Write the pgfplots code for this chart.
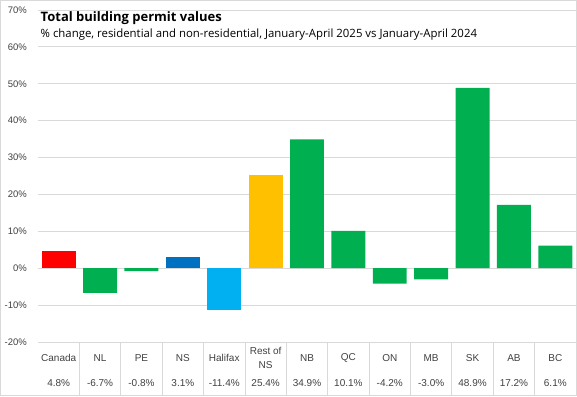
\documentclass[border=0pt]{standalone}
\usepackage{pgfplots}
\pgfplotsset{compat=1.18}
\usepackage{fontspec}
\setmainfont{Liberation Sans}
\newfontfamily\titlefont{Open Sans}
\definecolor{cred}{HTML}{FF0000}
\definecolor{cgreen}{HTML}{00B050}
\definecolor{cblue}{HTML}{0070C0}
\definecolor{clblue}{HTML}{00B0F0}
\definecolor{cgold}{HTML}{FFC000}
\definecolor{cgrid}{HTML}{D9D9D9}
\definecolor{ctext}{HTML}{404040}
\begin{document}
\begin{tikzpicture}
\path[use as bounding box] (-38pt,-54pt) rectangle (539pt,342pt);
\draw[cgrid,line width=0.8pt] (-37.6pt,-53.6pt) rectangle (538.6pt,341.6pt);
\begin{axis}[
  scale only axis,
  width=538pt, height=332pt,
  xmin=-0.5, xmax=12.5,
  ymin=-20, ymax=70,
  ytick={-20,-10,...,70},
  yticklabel={\pgfmathprintnumber{\tick}\%},
  /pgf/number format/assume math mode=true,
  yticklabel style={anchor=east, inner sep=0pt, xshift=-11pt, font=\fontsize{9.5}{11}\selectfont, text=ctext},
  ymajorgrids,
  grid style={cgrid, line width=0.8pt},
  axis line style={draw=none},
  major tick length=0pt,
  xtick={0,...,12},
  xticklabels={Canada,NL,PE,NS,Halifax,{Rest of\\NS},NB,QC,ON,MB,SK,AB,BC},
  xticklabel style={anchor=center, align=center, inner sep=0pt, yshift=-16pt, font=\fontsize{10}{14.5}\selectfont, text=ctext},
  extra x ticks={0,...,12},
  extra x tick labels={4.8\%,-6.7\%,-0.8\%,3.1\%,-11.4\%,25.4\%,34.9\%,10.1\%,-4.2\%,-3.0\%,48.9\%,17.2\%,6.1\%},
  extra x tick style={xticklabel style={yshift=-25pt}, grid=none},
  ybar, bar width=0.82, bar shift=0pt,
  clip=false,
]
\addplot[fill=cred, draw=none] coordinates {(0,4.8)};
\addplot[fill=cgreen, draw=none] coordinates {(1,-6.7) (2,-0.8) (6,34.9) (7,10.1) (8,-4.2) (9,-3.0) (10,48.9) (11,17.2) (12,6.1)};
\addplot[fill=cblue, draw=none] coordinates {(3,3.1)};
\addplot[fill=clblue, draw=none] coordinates {(4,-11.4)};
\addplot[fill=cgold, draw=none] coordinates {(5,25.4)};
\end{axis}
\foreach \k in {1,...,13} {
  \draw[cgrid, line width=0.8pt] ({\k*538/13*1pt},0pt) -- ({\k*538/13*1pt},-53.6pt);
}
\draw[cgrid, line width=0.8pt] (-37.6pt,-53.6pt) -- (538.6pt,-53.6pt);
\node[anchor=west, inner sep=0pt] at (2.5pt,324pt) {\titlefont\fontsize{13}{16}\selectfont\bfseries Total building permit values};
\node[anchor=west, inner sep=0pt] at (2.5pt,307.5pt) {\titlefont\fontsize{11.4}{13}\selectfont\% change, residential and non-residential, January-April 2025 vs January-April 2024};
\end{tikzpicture}
\end{document}
